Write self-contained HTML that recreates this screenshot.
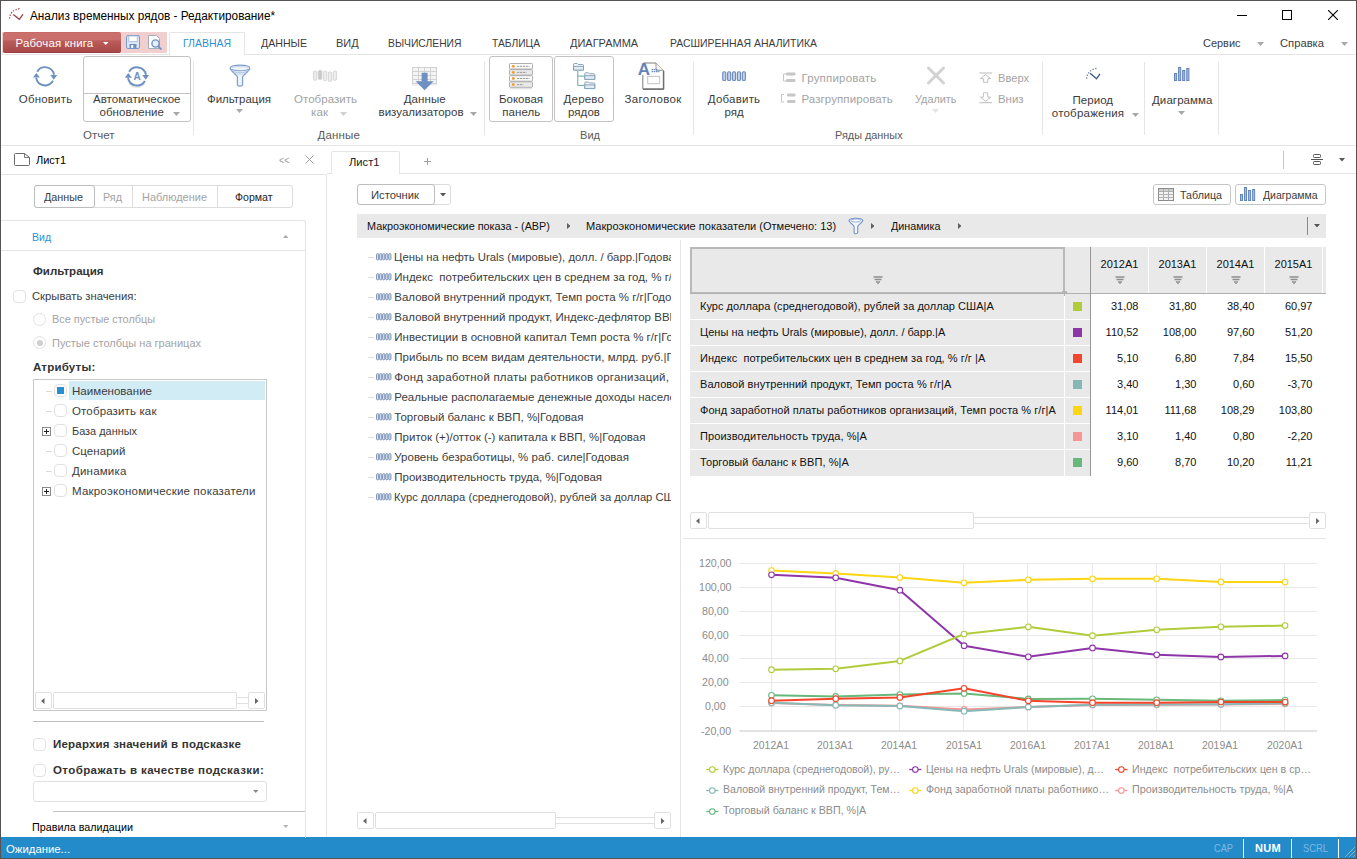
<!DOCTYPE html>
<html><head><meta charset="utf-8"><title>Анализ временных рядов</title>
<style>
html,body{margin:0;padding:0;}
body{width:1357px;height:859px;overflow:hidden;background:#fff;position:relative;font-family:"Liberation Sans",sans-serif;font-size:12px;color:#3c3c3c;}
.t{position:absolute;white-space:pre;transform-origin:0 50%;}
.b{position:absolute;box-sizing:border-box;}
</style></head><body>
<div class="b" style="left:0px;top:837px;width:1357px;height:22px;background:#248bcb;"></div>
<span class="t" style="left:6.00px;top:841.50px;line-height:15.5px;font-size:11.5px;color:#fff;transform:scaleX(0.9868);">Ожидание...</span>
<span class="t" style="left:1214.00px;top:840.50px;line-height:15px;font-size:11px;color:#7fb8de;transform:scaleX(0.8398);">CAP</span>
<span class="t" style="left:1255.00px;top:840.50px;line-height:15px;font-size:11px;color:#fff;letter-spacing:0.323px;font-weight:bold;">NUM</span>
<span class="t" style="left:1303.00px;top:840.50px;line-height:15px;font-size:11px;color:#7fb8de;transform:scaleX(0.8520);">SCRL</span>
<div class="b" style="left:1243px;top:839px;width:1px;height:19px;background:#fff;"></div>
<div class="b" style="left:1291px;top:839px;width:1px;height:19px;background:#fff;"></div>
<div class="b" style="left:1338px;top:839px;width:1px;height:19px;background:#fff;"></div>
<svg class="b" style="left:1343px;top:845px" width="12" height="12" viewBox="0 0 12 12"><path d="M1.5 12.5L12.5 1.5M5.5 12.5L12.5 5.5M9.5 12.5L12.5 9.5" stroke="#d9cfc6" stroke-width="1" stroke-dasharray="1 0.6" fill="none"/></svg>
<svg class="b" style="left:8px;top:7px" width="17" height="14" viewBox="0 0 17 14"><path d="M1.6 11.6 C1.6 6.5 5.5 2.3 11.6 1.7" stroke="#a8474d" stroke-width="1.3" stroke-dasharray="1.3 1.5" fill="none"/><path d="M5.3 7.4 L11.3 12.3 L15 7.4" stroke="#9c3f45" stroke-width="1.3" fill="none"/></svg>
<span class="t" style="left:30.00px;top:7.50px;line-height:16px;font-size:12px;color:#000;transform:scaleX(0.9821);">Анализ временных рядов - Редактирование*</span>
<div class="b" style="left:1237px;top:15px;width:10px;height:1px;background:#000;"></div>
<div class="b" style="left:1282px;top:10px;width:10px;height:10px;border:1px solid #000;"></div>
<svg class="b" style="left:1328px;top:10px" width="10" height="10" viewBox="0 0 10 10"><path d="M0 0L10 10M10 0L0 10" stroke="#000" stroke-width="1.1"/></svg>
<div class="b" style="left:1px;top:54px;width:1355px;height:1px;background:#e5e5e5;"></div>
<div class="b" style="left:2px;top:32px;width:165px;height:21px;background:#f2cfcf;"></div>
<div class="b" style="left:3px;top:32px;width:118px;height:21px;background:linear-gradient(#c56563 0%,#ca706d 6%,#c96e6b 40%,#ba5d5b 44%,#b35452 68%,#a94b4a 92%);border-radius:2px;border-bottom:1px solid #98403f;"></div>
<span class="t" style="left:15.50px;top:35.60px;line-height:15.5px;font-size:11.5px;color:#fff;letter-spacing:0.112px;">Рабочая книга</span>
<svg class="b" style="left:102.75px;top:41.9px" width="5.5" height="3" viewBox="0 0 5.5 3"><path d="M0 0H5.5L2.75 3Z" fill="#fff"/></svg>
<svg class="b" style="left:126px;top:35px" width="14" height="14" viewBox="0 0 14 14"><rect x="0.5" y="0.5" width="13" height="13" rx="1.5" fill="#dbe6f4" stroke="#7b9ccb"/><rect x="2.8" y="1" width="8.4" height="5.5" fill="#fff" stroke="#9fb8da" stroke-width="0.8"/><rect x="3.5" y="9" width="7" height="4.5" fill="#6f8fc0"/><rect x="5.2" y="10" width="2" height="3" fill="#fff"/></svg>
<svg class="b" style="left:148px;top:35px" width="15" height="15" viewBox="0 0 15 15"><path d="M0.5 0.5H8.5L11.5 3.5V13.5H0.5Z" fill="#fff" stroke="#a3aebd"/><circle cx="7.5" cy="8.5" r="3.6" fill="#e6eef8" stroke="#6f8fc0" stroke-width="1.4"/><path d="M10.2 11.3L13.5 14.5" stroke="#6f8fc0" stroke-width="1.8"/></svg>
<div class="b" style="left:169px;top:32px;width:76px;height:23px;background:#fff;border:1px solid #e5e5e5;border-bottom:none;border-radius:2px 2px 0 0;"></div>
<span class="t" style="left:183.00px;top:36.00px;line-height:15px;font-size:11px;color:#2d8fd5;transform:scaleX(0.9514);">ГЛАВНАЯ</span>
<span class="t" style="left:260.50px;top:36.00px;line-height:15px;font-size:11px;color:#3c3c3c;transform:scaleX(0.9634);">ДАННЫЕ</span>
<span class="t" style="left:336.00px;top:36.00px;line-height:15px;font-size:11px;color:#3c3c3c;transform:scaleX(0.9999);">ВИД</span>
<span class="t" style="left:388.00px;top:36.00px;line-height:15px;font-size:11px;color:#3c3c3c;transform:scaleX(0.9395);">ВЫЧИСЛЕНИЯ</span>
<span class="t" style="left:491.50px;top:36.00px;line-height:15px;font-size:11px;color:#3c3c3c;transform:scaleX(0.9315);">ТАБЛИЦА</span>
<span class="t" style="left:569.60px;top:36.00px;line-height:15px;font-size:11px;color:#3c3c3c;transform:scaleX(0.9990);">ДИАГРАММА</span>
<span class="t" style="left:670.00px;top:36.00px;line-height:15px;font-size:11px;color:#3c3c3c;transform:scaleX(0.9490);">РАСШИРЕННАЯ АНАЛИТИКА</span>
<span class="t" style="left:1202.50px;top:35.50px;line-height:15.5px;font-size:11.5px;color:#3c3c3c;transform:scaleX(0.9524);">Сервис</span>
<svg class="b" style="left:1257.0px;top:42.0px" width="7" height="4" viewBox="0 0 7 4"><path d="M0 0H7L3.5 4Z" fill="#a8a8a8"/></svg>
<span class="t" style="left:1279.60px;top:35.50px;line-height:15.5px;font-size:11.5px;color:#3c3c3c;transform:scaleX(0.9754);">Справка</span>
<svg class="b" style="left:1341.0px;top:42.0px" width="7" height="4" viewBox="0 0 7 4"><path d="M0 0H7L3.5 4Z" fill="#a8a8a8"/></svg>
<div class="b" style="left:1px;top:145px;width:1355px;height:1px;background:#e5e5e5;"></div>
<div class="b" style="left:193px;top:62px;width:1px;height:73px;background:#e5e5e5;"></div>
<div class="b" style="left:484px;top:62px;width:1px;height:73px;background:#e5e5e5;"></div>
<div class="b" style="left:693px;top:62px;width:1px;height:73px;background:#e5e5e5;"></div>
<div class="b" style="left:1042px;top:62px;width:1px;height:73px;background:#e5e5e5;"></div>
<div class="b" style="left:1144px;top:62px;width:1px;height:73px;background:#e5e5e5;"></div>
<div class="b" style="left:1218px;top:62px;width:1px;height:73px;background:#e5e5e5;"></div>
<svg class="b" style="left:30px;top:62px" width="30" height="30" viewBox="0 0 30 30"><path d="M7.22 9.75 A9.1 9.1 0 0 1 24.06 12.72" stroke="#6e90c2" stroke-width="1.9" fill="none"/><path d="M20.30 13.00 H27.20 L23.80 17.70Z" fill="#6e90c2"/><path d="M22.98 18.85 A9.1 9.1 0 0 1 6.14 15.88" stroke="#6e90c2" stroke-width="1.9" fill="none"/><path d="M9.90 15.60 H3.00 L6.40 10.90Z" fill="#6e90c2"/></svg>
<span class="t" style="left:18.80px;top:91.60px;line-height:15.5px;font-size:11.5px;color:#3c3c3c;letter-spacing:0.182px;">Обновить</span>
<div class="b" style="left:83px;top:56px;width:108px;height:66px;border:1px solid #c3c3c3;border-radius:3px;"></div>
<div class="b" style="left:84px;top:93px;width:106px;height:1px;background:#c3c3c3;"></div>
<svg class="b" style="left:122px;top:62px" width="30" height="30" viewBox="0 0 30 30"><path d="M7.5 21.5 A9.5 9.5 0 0 0 22.5 21.5" stroke="#e6e6e6" stroke-width="1.6" fill="none"/><path d="M7.12 9.85 A9.1 9.1 0 0 1 23.96 12.82" stroke="#6e90c2" stroke-width="1.9" fill="none"/><path d="M20.20 13.10 H27.10 L23.70 17.80Z" fill="#6e90c2"/><path d="M22.88 18.95 A9.1 9.1 0 0 1 6.04 15.98" stroke="#6e90c2" stroke-width="1.9" fill="none"/><path d="M9.80 15.70 H2.90 L6.30 11.00Z" fill="#6e90c2"/><text x="15" y="17.9" font-size="10" font-weight="bold" fill="#6e90c2" text-anchor="middle" font-family="Liberation Sans">A</text></svg>
<span class="t" style="left:93.00px;top:91.60px;line-height:15.5px;font-size:11.5px;color:#3c3c3c;letter-spacing:0.046px;">Автоматическое</span>
<span class="t" style="left:99.50px;top:104.60px;line-height:15.5px;font-size:11.5px;color:#3c3c3c;letter-spacing:0.069px;">обновление</span>
<svg class="b" style="left:172.5px;top:111.5px" width="7" height="4" viewBox="0 0 7 4"><path d="M0 0H7L3.5 4Z" fill="#a8a8a8"/></svg>
<span class="t" style="left:83.00px;top:127.60px;line-height:15.5px;font-size:11.5px;color:#5a5a5a;letter-spacing:0.006px;">Отчет</span>
<svg class="b" style="left:228.8px;top:64px" width="22" height="24" viewBox="0 0 22 24"><path d="M1.2 4.2 C1.2 0.2 20.8 0.2 20.8 4.2 C20.8 6.5 14.2 11.2 13.6 12.8 V20.6 C13.6 22.6 8.4 22.6 8.4 20.6 V12.8 C7.8 11.2 1.2 6.5 1.2 4.2Z" fill="#eef3fb" stroke="#7d9dcc" stroke-width="1.2"/><path d="M1.5 4.4 C3 7.6 19 7.6 20.5 4.4" fill="none" stroke="#7d9dcc" stroke-width="1"/><path d="M2.6 6.2 C6 9.6 16 9.6 19.4 6.2" fill="none" stroke="#a3bbe0" stroke-width="0.9"/><path d="M4.6 8.3 C8 11 14 11 17.4 8.3" fill="none" stroke="#b9cbe8" stroke-width="0.8"/><path d="M3 3.6 C6 2.2 16 2.2 19 3.6" fill="none" stroke="#b9cbe8" stroke-width="0.8"/></svg>
<span class="t" style="left:207.00px;top:91.60px;line-height:15.5px;font-size:11.5px;color:#3c3c3c;transform:scaleX(0.9959);">Фильтрация</span>
<svg class="b" style="left:235.5px;top:108.5px" width="7" height="4" viewBox="0 0 7 4"><path d="M0 0H7L3.5 4Z" fill="#a8a8a8"/></svg>
<svg class="b" style="left:313px;top:70px" width="25" height="12" viewBox="0 0 25 12"><rect x="0.5" y="1.2" width="3.3" height="9" rx="1" fill="#ededed" stroke="#cdcdcd" stroke-width="0.8"/><rect x="5.45" y="0.4" width="3.3" height="9" rx="1" fill="#c9c9c9" stroke="#cdcdcd" stroke-width="0.8"/><rect x="10.4" y="1.2" width="3.3" height="9.4" rx="1" fill="#ededed" stroke="#cdcdcd" stroke-width="0.8"/><rect x="15.350000000000001" y="2" width="3.3" height="9.4" rx="1" fill="#ededed" stroke="#cdcdcd" stroke-width="0.8"/><rect x="20.3" y="1.2" width="3.3" height="9" rx="1" fill="#ededed" stroke="#cdcdcd" stroke-width="0.8"/></svg>
<span class="t" style="left:294.00px;top:91.60px;line-height:15.5px;font-size:11.5px;color:#a3a3a3;letter-spacing:0.034px;">Отобразить</span>
<span class="t" style="left:311.00px;top:104.60px;line-height:15.5px;font-size:11.5px;color:#a3a3a3;letter-spacing:0.099px;">как</span>
<svg class="b" style="left:339.5px;top:111.5px" width="7" height="4" viewBox="0 0 7 4"><path d="M0 0H7L3.5 4Z" fill="#d0d0d0"/></svg>
<svg class="b" style="left:412px;top:67px" width="25" height="24" viewBox="0 0 25 24"><rect x="0.5" y="0.5" width="24" height="16" fill="#f4f4f4" stroke="#d2d2d2"/><path d="M0.5 4.5H24.5" stroke="#d2d2d2"/><path d="M0.5 8.5H24.5" stroke="#d2d2d2"/><path d="M0.5 12.5H24.5" stroke="#d2d2d2"/><path d="M6.5 0.5V16.5" stroke="#d2d2d2"/><path d="M12.5 0.5V16.5" stroke="#d2d2d2"/><path d="M18.5 0.5V16.5" stroke="#d2d2d2"/><path d="M0 17.8H25" stroke="#e9e9e9" stroke-width="1.2"/><path d="M9.6 5.7H15.6V14.2H21.6L12.6 23.2L3.6 14.2H9.6Z" fill="#6e90c2"/></svg>
<span class="t" style="left:403.70px;top:91.60px;line-height:15.5px;font-size:11.5px;color:#3c3c3c;letter-spacing:0.081px;">Данные</span>
<span class="t" style="left:378.50px;top:104.60px;line-height:15.5px;font-size:11.5px;color:#3c3c3c;letter-spacing:0.026px;">визуализаторов</span>
<svg class="b" style="left:470.0px;top:111.5px" width="7" height="4" viewBox="0 0 7 4"><path d="M0 0H7L3.5 4Z" fill="#a8a8a8"/></svg>
<span class="t" style="left:317.50px;top:127.60px;line-height:15.5px;font-size:11.5px;color:#5a5a5a;letter-spacing:0.164px;">Данные</span>
<div class="b" style="left:489px;top:56px;width:64px;height:66px;border:1px solid #c3c3c3;border-radius:3px;"></div>
<svg class="b" style="left:509px;top:63px" width="24" height="27" viewBox="0 0 24 27"><path d="M1 25.6H23" stroke="#e3e3e3" stroke-width="1.4"/><rect x="0.5" y="0.5" width="23" height="5.5" rx="0.8" fill="#fbfbfb" stroke="#a6a6a6" stroke-width="0.9"/><circle cx="4.3" cy="3.3" r="1.4" fill="#f59a23"/><path d="M8 3.3H20.5" stroke="#909090" stroke-width="0.9" stroke-dasharray="2.2 0.7"/><rect x="0.5" y="6.6" width="23" height="5.5" rx="0.8" fill="#e9e9e9" stroke="#a6a6a6" stroke-width="0.9"/><circle cx="4.3" cy="9.399999999999999" r="1.4" fill="#f59a23"/><path d="M8 9.399999999999999H17.5" stroke="#909090" stroke-width="0.9" stroke-dasharray="2.2 0.7"/><rect x="0.5" y="12.7" width="23" height="5.5" rx="0.8" fill="#fbfbfb" stroke="#a6a6a6" stroke-width="0.9"/><circle cx="4.3" cy="15.5" r="1.4" fill="#f59a23"/><path d="M8 15.5H20.5" stroke="#909090" stroke-width="0.9" stroke-dasharray="2.2 0.7"/><rect x="0.5" y="18.799999999999997" width="23" height="5.5" rx="0.8" fill="#e9e9e9" stroke="#a6a6a6" stroke-width="0.9"/><circle cx="4.3" cy="21.599999999999998" r="1.4" fill="#f59a23"/><path d="M8 21.599999999999998H14.5" stroke="#909090" stroke-width="0.9" stroke-dasharray="2.2 0.7"/></svg>
<span class="t" style="left:499.00px;top:91.60px;line-height:15.5px;font-size:11.5px;color:#3c3c3c;transform:scaleX(0.9979);">Боковая</span>
<span class="t" style="left:502.30px;top:104.60px;line-height:15.5px;font-size:11.5px;color:#3c3c3c;letter-spacing:0.055px;">панель</span>
<div class="b" style="left:554px;top:56px;width:60px;height:66px;border:1px solid #c3c3c3;border-radius:3px;"></div>
<svg class="b" style="left:573px;top:63px" width="23" height="27" viewBox="0 0 23 27"><path d="M0.5 1.4Q0.5 0.5 1.4 0.5H4.2L5.2 1.5H9.6Q10.5 1.5 10.5 2.4V7H0.5Z" fill="#f3f7fb" stroke="#7b9db6" stroke-width="0.9"/><path d="M0.5 3.4H10.5V7.1H0.5Z" fill="#e3ebf4" stroke="#7b9db6" stroke-width="0.9"/><path d="M11.8 10.700000000000001Q11.8 9.8 12.700000000000001 9.8H15.5L16.5 10.8H20.9Q21.8 10.8 21.8 11.700000000000001V16.3H11.8Z" fill="#f3f7fb" stroke="#7b9db6" stroke-width="0.9"/><path d="M11.8 12.700000000000001H21.8V16.4H11.8Z" fill="#e3ebf4" stroke="#7b9db6" stroke-width="0.9"/><path d="M11.8 19.9Q11.8 19.0 12.700000000000001 19.0H15.5L16.5 20.0H20.9Q21.8 20.0 21.8 20.9V25.5H11.8Z" fill="#f3f7fb" stroke="#7b9db6" stroke-width="0.9"/><path d="M11.8 21.9H21.8V25.6H11.8Z" fill="#e3ebf4" stroke="#7b9db6" stroke-width="0.9"/><path d="M4.8 8V22.4H11M4.8 13.1H11" stroke="#6aa5a8" stroke-width="1" fill="none"/></svg>
<span class="t" style="left:563.60px;top:91.60px;line-height:15.5px;font-size:11.5px;color:#3c3c3c;letter-spacing:0.179px;">Дерево</span>
<span class="t" style="left:568.00px;top:104.60px;line-height:15.5px;font-size:11.5px;color:#3c3c3c;letter-spacing:0.059px;">рядов</span>
<svg class="b" style="left:637.5px;top:61.5px" width="28" height="29" viewBox="0 0 28 29"><path d="M5.5 1H18L25.3 8.3V26.8H4.8V13" fill="#fff" stroke="#7c7c7c" stroke-width="1"/><path d="M5 27.3H25.8V9" fill="none" stroke="#5c5c5c" stroke-width="1"/><path d="M18 1V8.3H25.3" fill="#f4f4f4" stroke="#8d8d8d" stroke-width="0.9"/><rect x="9.7" y="14.4" width="12" height="7.3" fill="#fff" stroke="#c4c4c4" stroke-width="1"/><path d="M13.6 7.6H19.5M13.6 9.6H21.5" stroke="#6d8cc0" stroke-width="1.1" stroke-dasharray="1.6 0.6"/><text x="-0.2" y="12.6" font-size="17" font-weight="bold" fill="#6485b8" font-family="Liberation Sans">A</text></svg>
<span class="t" style="left:624.60px;top:91.60px;line-height:15.5px;font-size:11.5px;color:#3c3c3c;letter-spacing:0.328px;">Заголовок</span>
<span class="t" style="left:579.50px;top:127.60px;line-height:15.5px;font-size:11.5px;color:#5a5a5a;transform:scaleX(0.9617);">Вид</span>
<svg class="b" style="left:722px;top:71px" width="25" height="11" viewBox="0 0 25 11"><rect x="0.7" y="0.7" width="3.1" height="8.8" rx="1.3" fill="#c3d2e8" stroke="#6f8dba" stroke-width="1.15"/><rect x="5.6000000000000005" y="0.7" width="3.1" height="8.8" rx="1.3" fill="#c3d2e8" stroke="#6f8dba" stroke-width="1.15"/><rect x="10.5" y="0.7" width="3.1" height="8.8" rx="1.3" fill="#c3d2e8" stroke="#6f8dba" stroke-width="1.15"/><rect x="15.4" y="0.7" width="3.1" height="8.8" rx="1.3" fill="#c3d2e8" stroke="#6f8dba" stroke-width="1.15"/><rect x="20.3" y="0.7" width="3.1" height="8.8" rx="1.3" fill="#c3d2e8" stroke="#6f8dba" stroke-width="1.15"/></svg>
<span class="t" style="left:707.80px;top:91.60px;line-height:15.5px;font-size:11.5px;color:#3c3c3c;letter-spacing:0.213px;">Добавить</span>
<span class="t" style="left:724.50px;top:104.60px;line-height:15.5px;font-size:11.5px;color:#3c3c3c;letter-spacing:0.032px;">ряд</span>
<svg class="b" style="left:782px;top:72px" width="14" height="11" viewBox="0 0 14 11"><path d="M5 2H1.5V9H5" stroke="#c6c6c6" fill="none"/><rect x="4" y="0.5" width="9.5" height="3" rx="1.2" fill="#c6c6c6"/><rect x="4" y="7" width="9.5" height="3" rx="1.2" fill="#c6c6c6"/></svg>
<span class="t" style="left:801.40px;top:71.40px;line-height:15.5px;font-size:11.5px;color:#a3a3a3;letter-spacing:0.195px;">Группировать</span>
<svg class="b" style="left:781px;top:93px" width="15" height="11" viewBox="0 0 15 11"><path d="M3 1.5H0.5V9H3" stroke="#c6c6c6" fill="none"/><rect x="6" y="0.5" width="8.5" height="3" rx="1.2" fill="#c6c6c6"/><rect x="6" y="7" width="8.5" height="3" rx="1.2" fill="#c6c6c6"/></svg>
<span class="t" style="left:801.40px;top:92.40px;line-height:15.5px;font-size:11.5px;color:#a3a3a3;letter-spacing:0.095px;">Разгруппировать</span>
<svg class="b" style="left:926px;top:66px" width="20" height="19" viewBox="0 0 20 19"><path d="M2.5 2L17.5 17M17.5 2L2.5 17" stroke="#d2d2d2" stroke-width="2.9" stroke-linecap="round"/></svg>
<span class="t" style="left:915.00px;top:91.60px;line-height:15.5px;font-size:11.5px;color:#a3a3a3;transform:scaleX(0.9455);">Удалить</span>
<svg class="b" style="left:932.0px;top:108.5px" width="7" height="4" viewBox="0 0 7 4"><path d="M0 0H7L3.5 4Z" fill="#e3e3e3"/></svg>
<svg class="b" style="left:979px;top:72px" width="14" height="11" viewBox="0 0 14 11"><path d="M0.3 1H13" stroke="#c2c2c2" stroke-width="1.1"/><path d="M6.6 2.6L11.8 6.6H8.8V10.2H4.4V6.6H1.4Z" fill="#fff" stroke="#c2c2c2" stroke-width="1"/></svg>
<span class="t" style="left:998.20px;top:71.40px;line-height:15.5px;font-size:11.5px;color:#a3a3a3;transform:scaleX(0.9669);">Вверх</span>
<svg class="b" style="left:979px;top:92px" width="14" height="12" viewBox="0 0 14 12"><path d="M0.3 10.7H13" stroke="#c2c2c2" stroke-width="1.1"/><path d="M6.6 9.2L11.8 5.2H8.8V0.8H4.4V5.2H1.4Z" fill="#fff" stroke="#c2c2c2" stroke-width="1"/></svg>
<span class="t" style="left:998.20px;top:92.40px;line-height:15.5px;font-size:11.5px;color:#a3a3a3;transform:scaleX(0.9921);">Вниз</span>
<span class="t" style="left:834.60px;top:127.60px;line-height:15.5px;font-size:11.5px;color:#5a5a5a;transform:scaleX(0.9457);">Ряды данных</span>
<svg class="b" style="left:1085px;top:66px" width="18" height="15" viewBox="0 0 18 15"><path d="M1.6 12.6 C1.8 7.6 6 2.8 12.4 2.4" stroke="#6b7a94" stroke-width="1.3" stroke-dasharray="1.3 1.5" fill="none"/><path d="M5.1 7.3 L11.5 12.8 L15 7.9" stroke="#3f5a88" stroke-width="1.4" fill="none"/></svg>
<span class="t" style="left:1072.60px;top:93.40px;line-height:15.5px;font-size:11.5px;color:#3c3c3c;letter-spacing:0.015px;">Период</span>
<span class="t" style="left:1051.80px;top:106.30px;line-height:15.5px;font-size:11.5px;color:#3c3c3c;letter-spacing:0.216px;">отображения</span>
<svg class="b" style="left:1131.5px;top:113.0px" width="7" height="4" viewBox="0 0 7 4"><path d="M0 0H7L3.5 4Z" fill="#a8a8a8"/></svg>
<svg class="b" style="left:1174px;top:66px" width="17" height="15" viewBox="0 0 17 15"><rect x="0.5" y="7.5" width="2.1" height="7" fill="#a3bbde" stroke="#6284b8" stroke-width="1"/><rect x="4.6" y="1.5" width="2.1" height="13" fill="#a3bbde" stroke="#6284b8" stroke-width="1"/><rect x="8.7" y="4.5" width="2.1" height="10" fill="#a3bbde" stroke="#6284b8" stroke-width="1"/><rect x="12.799999999999999" y="2.5" width="2.1" height="12" fill="#a3bbde" stroke="#6284b8" stroke-width="1"/></svg>
<span class="t" style="left:1152.00px;top:93.40px;line-height:15.5px;font-size:11.5px;color:#3c3c3c;letter-spacing:0.082px;">Диаграмма</span>
<svg class="b" style="left:1178.0px;top:111.0px" width="7" height="4" viewBox="0 0 7 4"><path d="M0 0H7L3.5 4Z" fill="#a8a8a8"/></svg>
<svg class="b" style="left:14px;top:153px" width="16" height="13" viewBox="0 0 16 13"><path d="M0.5 1.5 Q0.5 0.5 1.5 0.5H10.5L15.5 4.5V11.5Q15.5 12.5 14.5 12.5H1.5Q0.5 12.5 0.5 11.5Z" fill="#fff" stroke="#6a6a6a" stroke-width="1"/><path d="M10.5 0.5V4.5H15.5" fill="none" stroke="#6a6a6a" stroke-width="0.9"/></svg>
<span class="t" style="left:36.00px;top:153.00px;line-height:15.5px;font-size:11.5px;color:#000;transform:scaleX(0.9562);">Лист1</span>
<span class="t" style="left:278.50px;top:152.50px;line-height:15px;font-size:11px;color:#9a9a9a;transform:scaleX(0.8175);">&lt;&lt;</span>
<svg class="b" style="left:305.3px;top:155.2px" width="9" height="9" viewBox="0 0 9 9"><path d="M0.6 0.6L8.4 8.4M8.4 0.6L0.6 8.4" stroke="#9c9c9c" stroke-width="1"/></svg>
<div class="b" style="left:1px;top:174px;width:326px;height:1px;background:#e5e5e5;"></div>
<div class="b" style="left:326px;top:175px;width:1px;height:662px;background:#e5e5e5;"></div>
<div class="b" style="left:327px;top:173px;width:4px;height:1px;background:#e5e5e5;"></div>
<div class="b" style="left:34px;top:185px;width:259px;height:23px;border:1px solid #dcdcdc;border-radius:3px;"></div>
<div class="b" style="left:132px;top:186px;width:1px;height:21px;background:#dcdcdc;"></div>
<div class="b" style="left:217px;top:186px;width:1px;height:21px;background:#dcdcdc;"></div>
<div class="b" style="left:34px;top:185px;width:61px;height:23px;border:1px solid #bdbdbd;border-radius:3px;background:#fff;"></div>
<span class="t" style="left:44.00px;top:190.00px;line-height:15.5px;font-size:11.5px;color:#3c3c3c;transform:scaleX(0.9394);">Данные</span>
<span class="t" style="left:103.00px;top:190.00px;line-height:15.5px;font-size:11.5px;color:#a3a3a3;transform:scaleX(0.9390);">Ряд</span>
<span class="t" style="left:142.00px;top:190.00px;line-height:15.5px;font-size:11.5px;color:#a3a3a3;transform:scaleX(0.9543);">Наблюдение</span>
<span class="t" style="left:235.00px;top:190.00px;line-height:15.5px;font-size:11.5px;color:#222;transform:scaleX(0.9181);">Формат</span>
<div class="b" style="left:1px;top:220px;width:305px;height:618px;border-top:1px solid #e5e5e5;border-right:1px solid #e5e5e5;border-top-right-radius:3px;"></div>
<span class="t" style="left:32.00px;top:230.00px;line-height:15.5px;font-size:11.5px;color:#2d8fd5;transform:scaleX(0.9136);">Вид</span>
<svg class="b" style="left:282.55px;top:234.9px" width="5.5" height="3" viewBox="0 0 5.5 3"><path d="M0 3H5.5L2.75 0Z" fill="#a8a8a8"/></svg>
<div class="b" style="left:1px;top:250px;width:304px;height:1px;background:#e5e5e5;"></div>
<span class="t" style="left:33.00px;top:264.00px;line-height:15.5px;font-size:11.5px;color:#333;letter-spacing:0.039px;font-weight:bold;">Фильтрация</span>
<div class="b" style="left:13px;top:290px;width:13px;height:13px;border:1px solid #e2e2e2;border-radius:4px;background:#fff;"></div>
<span class="t" style="left:32.00px;top:288.60px;line-height:15.5px;font-size:11.5px;color:#3c3c3c;transform:scaleX(0.9778);">Скрывать значения:</span>
<div class="b" style="left:33px;top:313px;width:13px;height:13px;border:1px solid #e2e2e2;border-radius:50%;"></div>
<span class="t" style="left:52.00px;top:311.60px;line-height:15.5px;font-size:11.5px;color:#a3a3a3;transform:scaleX(0.9458);">Все пустые столбцы</span>
<div class="b" style="left:33px;top:336px;width:13px;height:13px;border:1px solid #e2e2e2;border-radius:50%;"></div>
<div class="b" style="left:36.5px;top:339.5px;width:6px;height:6px;background:#cfcfcf;border-radius:50%;"></div>
<span class="t" style="left:52.00px;top:336.00px;line-height:15.5px;font-size:11.5px;color:#a3a3a3;transform:scaleX(0.9581);">Пустые столбцы на границах</span>
<span class="t" style="left:33.00px;top:360.00px;line-height:15.5px;font-size:11.5px;color:#333;letter-spacing:0.207px;font-weight:bold;">Атрибуты:</span>
<div class="b" style="left:33px;top:379px;width:234px;height:332px;border:1px solid #c8c8c8;"></div>
<div class="b" style="left:69px;top:381px;width:196px;height:19px;background:#d2ecf6;"></div>
<div class="b" style="left:46px;top:391px;width:6px;height:1px;background:#dcdcdc;"></div>
<div class="b" style="left:54px;top:384px;width:13px;height:13px;border:1px solid #e2e2e2;border-radius:4px;background:#fff;"></div>
<div class="b" style="left:57px;top:387px;width:7px;height:7px;background:#2a8fd2;"></div>
<span class="t" style="left:72.00px;top:383.75px;line-height:15.5px;font-size:11.5px;color:#3c3c3c;letter-spacing:0.026px;">Наименование</span>
<div class="b" style="left:46px;top:411px;width:6px;height:1px;background:#dcdcdc;"></div>
<div class="b" style="left:54px;top:404px;width:13px;height:13px;border:1px solid #e2e2e2;border-radius:4px;background:#fff;"></div>
<span class="t" style="left:72.00px;top:403.75px;line-height:15.5px;font-size:11.5px;color:#3c3c3c;letter-spacing:0.140px;">Отобразить как</span>
<svg class="b" style="left:42px;top:426.5px" width="9" height="9" viewBox="0 0 9 9"><rect x="0.5" y="0.5" width="8" height="8" fill="#fff" stroke="#8a8a8a"/><path d="M2 4.5H7M4.5 2V7" stroke="#222" stroke-width="1"/></svg>
<div class="b" style="left:54px;top:424px;width:13px;height:13px;border:1px solid #e2e2e2;border-radius:4px;background:#fff;"></div>
<span class="t" style="left:72.00px;top:423.75px;line-height:15.5px;font-size:11.5px;color:#3c3c3c;transform:scaleX(0.9496);">База данных</span>
<div class="b" style="left:46px;top:451px;width:6px;height:1px;background:#dcdcdc;"></div>
<div class="b" style="left:54px;top:444px;width:13px;height:13px;border:1px solid #e2e2e2;border-radius:4px;background:#fff;"></div>
<span class="t" style="left:72.00px;top:443.75px;line-height:15.5px;font-size:11.5px;color:#3c3c3c;letter-spacing:0.045px;">Сценарий</span>
<div class="b" style="left:46px;top:471px;width:6px;height:1px;background:#dcdcdc;"></div>
<div class="b" style="left:54px;top:464px;width:13px;height:13px;border:1px solid #e2e2e2;border-radius:4px;background:#fff;"></div>
<span class="t" style="left:72.00px;top:463.75px;line-height:15.5px;font-size:11.5px;color:#3c3c3c;letter-spacing:0.195px;">Динамика</span>
<svg class="b" style="left:42px;top:486.5px" width="9" height="9" viewBox="0 0 9 9"><rect x="0.5" y="0.5" width="8" height="8" fill="#fff" stroke="#8a8a8a"/><path d="M2 4.5H7M4.5 2V7" stroke="#222" stroke-width="1"/></svg>
<div class="b" style="left:54px;top:484px;width:13px;height:13px;border:1px solid #e2e2e2;border-radius:4px;background:#fff;"></div>
<span class="t" style="left:72.00px;top:483.75px;line-height:15.5px;font-size:11.5px;color:#3c3c3c;letter-spacing:0.210px;">Макроэкономические показатели</span>
<div class="b" style="left:35px;top:692px;width:17px;height:17px;border:1px solid #e0e0e0;border-radius:2px;background:#fff;"></div>
<svg class="b" style="left:41.25px;top:697.5px" width="3.5" height="6" viewBox="0 0 3.5 6"><path d="M3.5 0V6L0 3.0Z" fill="#666"/></svg>
<div class="b" style="left:248px;top:692px;width:17px;height:17px;border:1px solid #e0e0e0;border-radius:2px;background:#fff;"></div>
<svg class="b" style="left:255.25px;top:697.5px" width="3.5" height="6" viewBox="0 0 3.5 6"><path d="M0 0V6L3.5 3.0Z" fill="#666"/></svg>
<div class="b" style="left:235px;top:697px;width:14px;height:7px;border-top:1px solid #e0e0e0;border-bottom:1px solid #e0e0e0;"></div>
<div class="b" style="left:53px;top:692px;width:184px;height:17px;border:1px solid #e0e0e0;border-radius:2px;background:#fff;"></div>
<div class="b" style="left:33px;top:721px;width:231px;height:1px;background:#bdbdbd;"></div>
<div class="b" style="left:33px;top:738px;width:13px;height:13px;border:1px solid #e2e2e2;border-radius:4px;background:#fff;"></div>
<span class="t" style="left:53.00px;top:736.50px;line-height:15.5px;font-size:11.5px;color:#333;letter-spacing:0.202px;font-weight:bold;">Иерархия значений в подсказке</span>
<div class="b" style="left:33px;top:764px;width:13px;height:13px;border:1px solid #e2e2e2;border-radius:4px;background:#fff;"></div>
<span class="t" style="left:53.00px;top:762.50px;line-height:15.5px;font-size:11.5px;color:#333;letter-spacing:0.405px;font-weight:bold;">Отображать в качестве подсказки:</span>
<div class="b" style="left:33px;top:781px;width:234px;height:21px;border:1px solid #e0e0e0;border-radius:3px;background:#fff;"></div>
<svg class="b" style="left:252.75px;top:789.8px" width="5.5" height="3" viewBox="0 0 5.5 3"><path d="M0 0H5.5L2.75 3Z" fill="#888"/></svg>
<div class="b" style="left:53px;top:811px;width:252px;height:1px;background:#c4c4c4;"></div>
<span class="t" style="left:32.00px;top:819.75px;line-height:15.5px;font-size:11.5px;color:#000;transform:scaleX(0.9361);">Правила валидации</span>
<svg class="b" style="left:282.55px;top:825.1px" width="5.5" height="3" viewBox="0 0 5.5 3"><path d="M0 0H5.5L2.75 3Z" fill="#b5b5b5"/></svg>
<div class="b" style="left:399px;top:173px;width:957px;height:1px;background:#e5e5e5;"></div>
<div class="b" style="left:331px;top:151px;width:69px;height:23px;background:#fff;border:1px solid #e5e5e5;border-bottom:none;border-radius:2px 2px 0 0;"></div>
<span class="t" style="left:349.00px;top:155.00px;line-height:15.5px;font-size:11.5px;color:#222;transform:scaleX(0.9721);">Лист1</span>
<svg class="b" style="left:424px;top:158px" width="7" height="7" viewBox="0 0 7 7"><path d="M3.5 0V7M0 3.5H7" stroke="#a0a0a0" stroke-width="1"/></svg>
<div class="b" style="left:1283px;top:151px;width:1px;height:18px;background:#b5cdea;"></div>
<svg class="b" style="left:1311px;top:154px" width="12" height="11" viewBox="0 0 12 11"><rect x="2.5" y="0.5" width="7" height="3" rx="0.8" fill="#fff" stroke="#555" stroke-width="1"/><path d="M0 5.5H12" stroke="#555" stroke-width="1"/><rect x="2.5" y="7.5" width="7" height="3" rx="0.8" fill="#fff" stroke="#555" stroke-width="1"/></svg>
<svg class="b" style="left:1338.5px;top:158.05px" width="6" height="3.5" viewBox="0 0 6 3.5"><path d="M0 0H6L3.0 3.5Z" fill="#555"/></svg>
<div class="b" style="left:357px;top:184px;width:94px;height:21px;border:1px solid #dcdcdc;border-radius:3px;background:#fff;"></div>
<div class="b" style="left:357px;top:184px;width:78px;height:21px;border:1px solid #bdbdbd;border-radius:3px;background:#fff;"></div>
<span class="t" style="left:371.00px;top:188.00px;line-height:15.5px;font-size:11.5px;color:#3c3c3c;transform:scaleX(0.9780);">Источник</span>
<svg class="b" style="left:440.0px;top:193.05px" width="6" height="3.5" viewBox="0 0 6 3.5"><path d="M0 0H6L3.0 3.5Z" fill="#555"/></svg>
<div class="b" style="left:1153px;top:184px;width:78px;height:21px;border:1px solid #c6c6c6;border-radius:3px;background:#fff;"></div>
<svg class="b" style="left:1158px;top:188px" width="16" height="13" viewBox="0 0 16 13"><rect x="0.5" y="0.5" width="15" height="12" fill="#f2f2f2" stroke="#8a8a8a"/><rect x="1" y="1" width="14" height="2.5" fill="#cfcfcf"/><path d="M0.5 3.5H15.5M0.5 6.5H15.5M0.5 9.5H15.5M5.5 0.5V12.5M10.5 0.5V12.5" stroke="#a9a9a9" stroke-width="0.9"/></svg>
<span class="t" style="left:1180.00px;top:188.00px;line-height:15.5px;font-size:11.5px;color:#3c3c3c;transform:scaleX(0.9314);">Таблица</span>
<div class="b" style="left:1235px;top:184px;width:91px;height:21px;border:1px solid #c6c6c6;border-radius:3px;background:#fff;"></div>
<svg class="b" style="left:1240px;top:187px" width="16" height="14" viewBox="0 0 16 14"><rect x="0.5" y="7.5" width="2" height="6" fill="#a9bfe0" stroke="#6284b8" stroke-width="1"/><rect x="4.55" y="0.5" width="2" height="13" fill="#a9bfe0" stroke="#6284b8" stroke-width="1"/><rect x="8.6" y="3.5" width="2" height="10" fill="#a9bfe0" stroke="#6284b8" stroke-width="1"/><rect x="12.649999999999999" y="2.5" width="2" height="11" fill="#a9bfe0" stroke="#6284b8" stroke-width="1"/></svg>
<span class="t" style="left:1263.00px;top:188.00px;line-height:15.5px;font-size:11.5px;color:#3c3c3c;transform:scaleX(0.9119);">Диаграмма</span>
<div class="b" style="left:357px;top:214px;width:969px;height:24px;background:#e9e9e9;"></div>
<span class="t" style="left:366.80px;top:219.00px;line-height:15.5px;font-size:11.5px;color:#111;transform:scaleX(0.9411);">Макроэкономические показа - (АВР)</span>
<svg class="b" style="left:566.75px;top:223.0px" width="3.5" height="6" viewBox="0 0 3.5 6"><path d="M0 0V6L3.5 3.0Z" fill="#606060"/></svg>
<span class="t" style="left:585.80px;top:219.00px;line-height:15.5px;font-size:11.5px;color:#111;transform:scaleX(0.9592);">Макроэкономические показатели (Отмечено: 13)</span>
<svg class="b" style="left:848px;top:217px" width="16" height="18" viewBox="0 0 16 18"><path d="M1 3.5 C1 0.4 14.8 0.4 14.8 3.5 C14.8 5.2 10 8.2 9.7 9.4 V15.6 C9.7 17.2 6.1 17.2 6.1 15.6 V9.4 C5.8 8.2 1 5.2 1 3.5Z" fill="#f3f7fd" stroke="#6f93c8" stroke-width="1.1"/><ellipse cx="7.9" cy="3.5" rx="5.2" ry="1.5" fill="#fff" stroke="#8aa7d4" stroke-width="0.9"/></svg>
<svg class="b" style="left:870.65px;top:223.0px" width="3.5" height="6" viewBox="0 0 3.5 6"><path d="M0 0V6L3.5 3.0Z" fill="#606060"/></svg>
<span class="t" style="left:891.00px;top:219.00px;line-height:15.5px;font-size:11.5px;color:#111;transform:scaleX(0.9351);">Динамика</span>
<svg class="b" style="left:957.55px;top:223.0px" width="3.5" height="6" viewBox="0 0 3.5 6"><path d="M0 0V6L3.5 3.0Z" fill="#606060"/></svg>
<div class="b" style="left:1307px;top:217px;width:1px;height:18px;background:#8a8a8a;"></div>
<svg class="b" style="left:1314.3px;top:223.85px" width="6" height="3.5" viewBox="0 0 6 3.5"><path d="M0 0H6L3.0 3.5Z" fill="#555"/></svg>
<div class="b" style="left:357px;top:244px;width:313.5px;height:264px;overflow:hidden;">
<div class="b" style="left:11px;top:13px;width:6px;height:1px;background:#dcdcdc;"></div>
<svg class="b" style="left:18.5px;top:9px" width="16" height="8" viewBox="0 0 16 8"><rect x="0.6" y="0.6" width="2.1" height="6.3" rx="1" fill="#e3e9f3" stroke="#7189b0" stroke-width="0.95"/><rect x="3.65" y="0.6" width="2.1" height="6.3" rx="1" fill="#e3e9f3" stroke="#7189b0" stroke-width="0.95"/><rect x="6.699999999999999" y="0.6" width="2.1" height="6.3" rx="1" fill="#e3e9f3" stroke="#7189b0" stroke-width="0.95"/><rect x="9.749999999999998" y="0.6" width="2.1" height="6.3" rx="1" fill="#e3e9f3" stroke="#7189b0" stroke-width="0.95"/><rect x="12.799999999999999" y="0.6" width="2.1" height="6.3" rx="1" fill="#e3e9f3" stroke="#7189b0" stroke-width="0.95"/></svg>
<span class="t" style="left:37.30px;top:6.00px;line-height:15.5px;font-size:11.5px;color:#3c3c3c;transform:scaleX(0.985);">Цены на нефть Urals (мировые), долл. / барр.|Годовая</span>
<div class="b" style="left:11px;top:33px;width:6px;height:1px;background:#dcdcdc;"></div>
<svg class="b" style="left:18.5px;top:29px" width="16" height="8" viewBox="0 0 16 8"><rect x="0.6" y="0.6" width="2.1" height="6.3" rx="1" fill="#e3e9f3" stroke="#7189b0" stroke-width="0.95"/><rect x="3.65" y="0.6" width="2.1" height="6.3" rx="1" fill="#e3e9f3" stroke="#7189b0" stroke-width="0.95"/><rect x="6.699999999999999" y="0.6" width="2.1" height="6.3" rx="1" fill="#e3e9f3" stroke="#7189b0" stroke-width="0.95"/><rect x="9.749999999999998" y="0.6" width="2.1" height="6.3" rx="1" fill="#e3e9f3" stroke="#7189b0" stroke-width="0.95"/><rect x="12.799999999999999" y="0.6" width="2.1" height="6.3" rx="1" fill="#e3e9f3" stroke="#7189b0" stroke-width="0.95"/></svg>
<span class="t" style="left:37.30px;top:26.00px;line-height:15.5px;font-size:11.5px;color:#3c3c3c;">Индекс  потребительских цен в среднем за год, % г/г|Годовая</span>
<div class="b" style="left:11px;top:53px;width:6px;height:1px;background:#dcdcdc;"></div>
<svg class="b" style="left:18.5px;top:49px" width="16" height="8" viewBox="0 0 16 8"><rect x="0.6" y="0.6" width="2.1" height="6.3" rx="1" fill="#e3e9f3" stroke="#7189b0" stroke-width="0.95"/><rect x="3.65" y="0.6" width="2.1" height="6.3" rx="1" fill="#e3e9f3" stroke="#7189b0" stroke-width="0.95"/><rect x="6.699999999999999" y="0.6" width="2.1" height="6.3" rx="1" fill="#e3e9f3" stroke="#7189b0" stroke-width="0.95"/><rect x="9.749999999999998" y="0.6" width="2.1" height="6.3" rx="1" fill="#e3e9f3" stroke="#7189b0" stroke-width="0.95"/><rect x="12.799999999999999" y="0.6" width="2.1" height="6.3" rx="1" fill="#e3e9f3" stroke="#7189b0" stroke-width="0.95"/></svg>
<span class="t" style="left:37.30px;top:46.00px;line-height:15.5px;font-size:11.5px;color:#3c3c3c;">Валовой внутренний продукт, Темп роста % г/г|Годовая</span>
<div class="b" style="left:11px;top:73px;width:6px;height:1px;background:#dcdcdc;"></div>
<svg class="b" style="left:18.5px;top:69px" width="16" height="8" viewBox="0 0 16 8"><rect x="0.6" y="0.6" width="2.1" height="6.3" rx="1" fill="#e3e9f3" stroke="#7189b0" stroke-width="0.95"/><rect x="3.65" y="0.6" width="2.1" height="6.3" rx="1" fill="#e3e9f3" stroke="#7189b0" stroke-width="0.95"/><rect x="6.699999999999999" y="0.6" width="2.1" height="6.3" rx="1" fill="#e3e9f3" stroke="#7189b0" stroke-width="0.95"/><rect x="9.749999999999998" y="0.6" width="2.1" height="6.3" rx="1" fill="#e3e9f3" stroke="#7189b0" stroke-width="0.95"/><rect x="12.799999999999999" y="0.6" width="2.1" height="6.3" rx="1" fill="#e3e9f3" stroke="#7189b0" stroke-width="0.95"/></svg>
<span class="t" style="left:37.30px;top:66.00px;line-height:15.5px;font-size:11.5px;color:#3c3c3c;">Валовой внутренний продукт, Индекс-дефлятор ВВП|Годовая</span>
<div class="b" style="left:11px;top:93px;width:6px;height:1px;background:#dcdcdc;"></div>
<svg class="b" style="left:18.5px;top:89px" width="16" height="8" viewBox="0 0 16 8"><rect x="0.6" y="0.6" width="2.1" height="6.3" rx="1" fill="#e3e9f3" stroke="#7189b0" stroke-width="0.95"/><rect x="3.65" y="0.6" width="2.1" height="6.3" rx="1" fill="#e3e9f3" stroke="#7189b0" stroke-width="0.95"/><rect x="6.699999999999999" y="0.6" width="2.1" height="6.3" rx="1" fill="#e3e9f3" stroke="#7189b0" stroke-width="0.95"/><rect x="9.749999999999998" y="0.6" width="2.1" height="6.3" rx="1" fill="#e3e9f3" stroke="#7189b0" stroke-width="0.95"/><rect x="12.799999999999999" y="0.6" width="2.1" height="6.3" rx="1" fill="#e3e9f3" stroke="#7189b0" stroke-width="0.95"/></svg>
<span class="t" style="left:37.30px;top:86.00px;line-height:15.5px;font-size:11.5px;color:#3c3c3c;">Инвестиции в основной капитал Темп роста % г/г|Годовая</span>
<div class="b" style="left:11px;top:113px;width:6px;height:1px;background:#dcdcdc;"></div>
<svg class="b" style="left:18.5px;top:109px" width="16" height="8" viewBox="0 0 16 8"><rect x="0.6" y="0.6" width="2.1" height="6.3" rx="1" fill="#e3e9f3" stroke="#7189b0" stroke-width="0.95"/><rect x="3.65" y="0.6" width="2.1" height="6.3" rx="1" fill="#e3e9f3" stroke="#7189b0" stroke-width="0.95"/><rect x="6.699999999999999" y="0.6" width="2.1" height="6.3" rx="1" fill="#e3e9f3" stroke="#7189b0" stroke-width="0.95"/><rect x="9.749999999999998" y="0.6" width="2.1" height="6.3" rx="1" fill="#e3e9f3" stroke="#7189b0" stroke-width="0.95"/><rect x="12.799999999999999" y="0.6" width="2.1" height="6.3" rx="1" fill="#e3e9f3" stroke="#7189b0" stroke-width="0.95"/></svg>
<span class="t" style="left:37.30px;top:106.00px;line-height:15.5px;font-size:11.5px;color:#3c3c3c;">Прибыль по всем видам деятельности, млрд. руб.|Годовая</span>
<div class="b" style="left:11px;top:133px;width:6px;height:1px;background:#dcdcdc;"></div>
<svg class="b" style="left:18.5px;top:129px" width="16" height="8" viewBox="0 0 16 8"><rect x="0.6" y="0.6" width="2.1" height="6.3" rx="1" fill="#e3e9f3" stroke="#7189b0" stroke-width="0.95"/><rect x="3.65" y="0.6" width="2.1" height="6.3" rx="1" fill="#e3e9f3" stroke="#7189b0" stroke-width="0.95"/><rect x="6.699999999999999" y="0.6" width="2.1" height="6.3" rx="1" fill="#e3e9f3" stroke="#7189b0" stroke-width="0.95"/><rect x="9.749999999999998" y="0.6" width="2.1" height="6.3" rx="1" fill="#e3e9f3" stroke="#7189b0" stroke-width="0.95"/><rect x="12.799999999999999" y="0.6" width="2.1" height="6.3" rx="1" fill="#e3e9f3" stroke="#7189b0" stroke-width="0.95"/></svg>
<span class="t" style="left:37.30px;top:126.00px;line-height:15.5px;font-size:11.5px;color:#3c3c3c;letter-spacing:0.18px;">Фонд заработной платы работников организаций, Темп роста</span>
<div class="b" style="left:11px;top:153px;width:6px;height:1px;background:#dcdcdc;"></div>
<svg class="b" style="left:18.5px;top:149px" width="16" height="8" viewBox="0 0 16 8"><rect x="0.6" y="0.6" width="2.1" height="6.3" rx="1" fill="#e3e9f3" stroke="#7189b0" stroke-width="0.95"/><rect x="3.65" y="0.6" width="2.1" height="6.3" rx="1" fill="#e3e9f3" stroke="#7189b0" stroke-width="0.95"/><rect x="6.699999999999999" y="0.6" width="2.1" height="6.3" rx="1" fill="#e3e9f3" stroke="#7189b0" stroke-width="0.95"/><rect x="9.749999999999998" y="0.6" width="2.1" height="6.3" rx="1" fill="#e3e9f3" stroke="#7189b0" stroke-width="0.95"/><rect x="12.799999999999999" y="0.6" width="2.1" height="6.3" rx="1" fill="#e3e9f3" stroke="#7189b0" stroke-width="0.95"/></svg>
<span class="t" style="left:37.30px;top:146.00px;line-height:15.5px;font-size:11.5px;color:#3c3c3c;">Реальные располагаемые денежные доходы населения</span>
<div class="b" style="left:11px;top:173px;width:6px;height:1px;background:#dcdcdc;"></div>
<svg class="b" style="left:18.5px;top:169px" width="16" height="8" viewBox="0 0 16 8"><rect x="0.6" y="0.6" width="2.1" height="6.3" rx="1" fill="#e3e9f3" stroke="#7189b0" stroke-width="0.95"/><rect x="3.65" y="0.6" width="2.1" height="6.3" rx="1" fill="#e3e9f3" stroke="#7189b0" stroke-width="0.95"/><rect x="6.699999999999999" y="0.6" width="2.1" height="6.3" rx="1" fill="#e3e9f3" stroke="#7189b0" stroke-width="0.95"/><rect x="9.749999999999998" y="0.6" width="2.1" height="6.3" rx="1" fill="#e3e9f3" stroke="#7189b0" stroke-width="0.95"/><rect x="12.799999999999999" y="0.6" width="2.1" height="6.3" rx="1" fill="#e3e9f3" stroke="#7189b0" stroke-width="0.95"/></svg>
<span class="t" style="left:37.30px;top:166.00px;line-height:15.5px;font-size:11.5px;color:#3c3c3c;">Торговый баланс к ВВП, %|Годовая</span>
<div class="b" style="left:11px;top:193px;width:6px;height:1px;background:#dcdcdc;"></div>
<svg class="b" style="left:18.5px;top:189px" width="16" height="8" viewBox="0 0 16 8"><rect x="0.6" y="0.6" width="2.1" height="6.3" rx="1" fill="#e3e9f3" stroke="#7189b0" stroke-width="0.95"/><rect x="3.65" y="0.6" width="2.1" height="6.3" rx="1" fill="#e3e9f3" stroke="#7189b0" stroke-width="0.95"/><rect x="6.699999999999999" y="0.6" width="2.1" height="6.3" rx="1" fill="#e3e9f3" stroke="#7189b0" stroke-width="0.95"/><rect x="9.749999999999998" y="0.6" width="2.1" height="6.3" rx="1" fill="#e3e9f3" stroke="#7189b0" stroke-width="0.95"/><rect x="12.799999999999999" y="0.6" width="2.1" height="6.3" rx="1" fill="#e3e9f3" stroke="#7189b0" stroke-width="0.95"/></svg>
<span class="t" style="left:37.30px;top:186.00px;line-height:15.5px;font-size:11.5px;color:#3c3c3c;">Приток (+)/отток (-) капитала к ВВП, %|Годовая</span>
<div class="b" style="left:11px;top:213px;width:6px;height:1px;background:#dcdcdc;"></div>
<svg class="b" style="left:18.5px;top:209px" width="16" height="8" viewBox="0 0 16 8"><rect x="0.6" y="0.6" width="2.1" height="6.3" rx="1" fill="#e3e9f3" stroke="#7189b0" stroke-width="0.95"/><rect x="3.65" y="0.6" width="2.1" height="6.3" rx="1" fill="#e3e9f3" stroke="#7189b0" stroke-width="0.95"/><rect x="6.699999999999999" y="0.6" width="2.1" height="6.3" rx="1" fill="#e3e9f3" stroke="#7189b0" stroke-width="0.95"/><rect x="9.749999999999998" y="0.6" width="2.1" height="6.3" rx="1" fill="#e3e9f3" stroke="#7189b0" stroke-width="0.95"/><rect x="12.799999999999999" y="0.6" width="2.1" height="6.3" rx="1" fill="#e3e9f3" stroke="#7189b0" stroke-width="0.95"/></svg>
<span class="t" style="left:37.30px;top:206.00px;line-height:15.5px;font-size:11.5px;color:#3c3c3c;">Уровень безработицы, % раб. силе|Годовая</span>
<div class="b" style="left:11px;top:233px;width:6px;height:1px;background:#dcdcdc;"></div>
<svg class="b" style="left:18.5px;top:229px" width="16" height="8" viewBox="0 0 16 8"><rect x="0.6" y="0.6" width="2.1" height="6.3" rx="1" fill="#e3e9f3" stroke="#7189b0" stroke-width="0.95"/><rect x="3.65" y="0.6" width="2.1" height="6.3" rx="1" fill="#e3e9f3" stroke="#7189b0" stroke-width="0.95"/><rect x="6.699999999999999" y="0.6" width="2.1" height="6.3" rx="1" fill="#e3e9f3" stroke="#7189b0" stroke-width="0.95"/><rect x="9.749999999999998" y="0.6" width="2.1" height="6.3" rx="1" fill="#e3e9f3" stroke="#7189b0" stroke-width="0.95"/><rect x="12.799999999999999" y="0.6" width="2.1" height="6.3" rx="1" fill="#e3e9f3" stroke="#7189b0" stroke-width="0.95"/></svg>
<span class="t" style="left:37.30px;top:226.00px;line-height:15.5px;font-size:11.5px;color:#3c3c3c;">Производительность труда, %|Годовая</span>
<div class="b" style="left:11px;top:253px;width:6px;height:1px;background:#dcdcdc;"></div>
<svg class="b" style="left:18.5px;top:249px" width="16" height="8" viewBox="0 0 16 8"><rect x="0.6" y="0.6" width="2.1" height="6.3" rx="1" fill="#e3e9f3" stroke="#7189b0" stroke-width="0.95"/><rect x="3.65" y="0.6" width="2.1" height="6.3" rx="1" fill="#e3e9f3" stroke="#7189b0" stroke-width="0.95"/><rect x="6.699999999999999" y="0.6" width="2.1" height="6.3" rx="1" fill="#e3e9f3" stroke="#7189b0" stroke-width="0.95"/><rect x="9.749999999999998" y="0.6" width="2.1" height="6.3" rx="1" fill="#e3e9f3" stroke="#7189b0" stroke-width="0.95"/><rect x="12.799999999999999" y="0.6" width="2.1" height="6.3" rx="1" fill="#e3e9f3" stroke="#7189b0" stroke-width="0.95"/></svg>
<span class="t" style="left:37.30px;top:246.00px;line-height:15.5px;font-size:11.5px;color:#3c3c3c;transform:scaleX(0.975);">Курс доллара (среднегодовой), рублей за доллар США|Годовая</span>
</div>
<div class="b" style="left:357px;top:812px;width:17px;height:17px;border:1px solid #e0e0e0;border-radius:2px;background:#fff;"></div>
<svg class="b" style="left:363.25px;top:817.5px" width="3.5" height="6" viewBox="0 0 3.5 6"><path d="M3.5 0V6L0 3.0Z" fill="#666"/></svg>
<div class="b" style="left:654px;top:812px;width:17px;height:17px;border:1px solid #e0e0e0;border-radius:2px;background:#fff;"></div>
<svg class="b" style="left:661.25px;top:817.5px" width="3.5" height="6" viewBox="0 0 3.5 6"><path d="M0 0V6L3.5 3.0Z" fill="#666"/></svg>
<div class="b" style="left:554px;top:817px;width:101px;height:7px;border-top:1px solid #e0e0e0;border-bottom:1px solid #e0e0e0;"></div>
<div class="b" style="left:375px;top:812px;width:181px;height:17px;border:1px solid #e0e0e0;border-radius:2px;background:#fff;"></div>
<div class="b" style="left:680px;top:240px;width:1px;height:597px;background:#e5e5e5;"></div>
<div class="b" style="left:690px;top:247px;width:636px;height:47px;background:#e9e9e9;"></div>
<div class="b" style="left:690px;top:247px;width:375px;height:46px;border:2px solid #b9b9b9;border-bottom-width:1px;background:#e9e9e9;"></div>
<div class="b" style="left:1062px;top:291px;width:5px;height:5px;background:#b4b4b4;"></div>
<svg class="b" style="left:872.5px;top:276px" width="10" height="8" viewBox="0 0 10 8"><path d="M0.5 1H9.5M1.5 3.5H8.5M3 6H7" stroke="#8e8e8e" stroke-width="1.5"/><path d="M4 7.5H6" stroke="#a8a8a8" stroke-width="1"/></svg>
<div class="b" style="left:690px;top:293px;width:636px;height:1px;background:#b0b0b0;"></div>
<div class="b" style="left:1090px;top:247px;width:1px;height:229px;background:#979797;"></div>
<div class="b" style="left:1148px;top:247px;width:1px;height:46px;background:#fff;"></div>
<span class="t" style="left:1100.52px;top:256.50px;line-height:15px;font-size:11px;color:#111;">2012A1</span>
<svg class="b" style="left:1115px;top:276px" width="10" height="8" viewBox="0 0 10 8"><path d="M0.5 1H9.5M1.5 3.5H8.5M3 6H7" stroke="#8e8e8e" stroke-width="1.5"/><path d="M4 7.5H6" stroke="#a8a8a8" stroke-width="1"/></svg>
<div class="b" style="left:1206px;top:247px;width:1px;height:46px;background:#fff;"></div>
<span class="t" style="left:1158.52px;top:256.50px;line-height:15px;font-size:11px;color:#111;">2013A1</span>
<svg class="b" style="left:1173px;top:276px" width="10" height="8" viewBox="0 0 10 8"><path d="M0.5 1H9.5M1.5 3.5H8.5M3 6H7" stroke="#8e8e8e" stroke-width="1.5"/><path d="M4 7.5H6" stroke="#a8a8a8" stroke-width="1"/></svg>
<div class="b" style="left:1264px;top:247px;width:1px;height:46px;background:#fff;"></div>
<span class="t" style="left:1216.52px;top:256.50px;line-height:15px;font-size:11px;color:#111;">2014A1</span>
<svg class="b" style="left:1231px;top:276px" width="10" height="8" viewBox="0 0 10 8"><path d="M0.5 1H9.5M1.5 3.5H8.5M3 6H7" stroke="#8e8e8e" stroke-width="1.5"/><path d="M4 7.5H6" stroke="#a8a8a8" stroke-width="1"/></svg>
<div class="b" style="left:1322px;top:247px;width:1px;height:46px;background:#fff;"></div>
<span class="t" style="left:1274.52px;top:256.50px;line-height:15px;font-size:11px;color:#111;">2015A1</span>
<svg class="b" style="left:1289px;top:276px" width="10" height="8" viewBox="0 0 10 8"><path d="M0.5 1H9.5M1.5 3.5H8.5M3 6H7" stroke="#8e8e8e" stroke-width="1.5"/><path d="M4 7.5H6" stroke="#a8a8a8" stroke-width="1"/></svg>
<div class="b" style="left:1323px;top:247px;width:3px;height:46px;background:#e9e9e9;"></div>
<div class="b" style="left:690px;top:294px;width:374px;height:25px;background:#e9e9e9;"></div>
<div class="b" style="left:1065px;top:294px;width:25px;height:25px;background:#e9e9e9;"></div>
<span class="t" style="left:700.00px;top:298.50px;line-height:15px;font-size:11px;color:#111;letter-spacing:0.033px;">Курс доллара (среднегодовой), рублей за доллар США|A</span>
<div class="b" style="left:1073px;top:302px;width:9px;height:9px;background:#b0cc3a;"></div>
<span class="t" style="left:1110.94px;top:298.50px;line-height:15px;font-size:11px;color:#111;">31,08</span>
<span class="t" style="left:1168.94px;top:298.50px;line-height:15px;font-size:11px;color:#111;">31,80</span>
<span class="t" style="left:1226.94px;top:298.50px;line-height:15px;font-size:11px;color:#111;">38,40</span>
<span class="t" style="left:1284.94px;top:298.50px;line-height:15px;font-size:11px;color:#111;">60,97</span>
<div class="b" style="left:690px;top:320px;width:374px;height:25px;background:#e9e9e9;"></div>
<div class="b" style="left:1065px;top:320px;width:25px;height:25px;background:#e9e9e9;"></div>
<span class="t" style="left:700.00px;top:324.50px;line-height:15px;font-size:11px;color:#111;letter-spacing:0.022px;">Цены на нефть Urals (мировые), долл. / барр.|A</span>
<div class="b" style="left:1073px;top:328px;width:9px;height:9px;background:#8e35a8;"></div>
<span class="t" style="left:1105.62px;top:324.50px;line-height:15px;font-size:11px;color:#111;">110,52</span>
<span class="t" style="left:1162.81px;top:324.50px;line-height:15px;font-size:11px;color:#111;">108,00</span>
<span class="t" style="left:1226.94px;top:324.50px;line-height:15px;font-size:11px;color:#111;">97,60</span>
<span class="t" style="left:1284.94px;top:324.50px;line-height:15px;font-size:11px;color:#111;">51,20</span>
<div class="b" style="left:690px;top:346px;width:374px;height:25px;background:#e9e9e9;"></div>
<div class="b" style="left:1065px;top:346px;width:25px;height:25px;background:#e9e9e9;"></div>
<span class="t" style="left:700.00px;top:350.50px;line-height:15px;font-size:11px;color:#111;letter-spacing:0.044px;">Индекс  потребительских цен в среднем за год, % г/г |A</span>
<div class="b" style="left:1073px;top:354px;width:9px;height:9px;background:#f4452c;"></div>
<span class="t" style="left:1117.06px;top:350.50px;line-height:15px;font-size:11px;color:#111;">5,10</span>
<span class="t" style="left:1175.06px;top:350.50px;line-height:15px;font-size:11px;color:#111;">6,80</span>
<span class="t" style="left:1233.06px;top:350.50px;line-height:15px;font-size:11px;color:#111;">7,84</span>
<span class="t" style="left:1284.94px;top:350.50px;line-height:15px;font-size:11px;color:#111;">15,50</span>
<div class="b" style="left:690px;top:372px;width:374px;height:25px;background:#e9e9e9;"></div>
<div class="b" style="left:1065px;top:372px;width:25px;height:25px;background:#e9e9e9;"></div>
<span class="t" style="left:700.00px;top:376.50px;line-height:15px;font-size:11px;color:#111;letter-spacing:0.056px;">Валовой внутренний продукт, Темп роста % г/г|A</span>
<div class="b" style="left:1073px;top:380px;width:9px;height:9px;background:#86b9b6;"></div>
<span class="t" style="left:1117.06px;top:376.50px;line-height:15px;font-size:11px;color:#111;">3,40</span>
<span class="t" style="left:1175.06px;top:376.50px;line-height:15px;font-size:11px;color:#111;">1,30</span>
<span class="t" style="left:1233.06px;top:376.50px;line-height:15px;font-size:11px;color:#111;">0,60</span>
<span class="t" style="left:1287.41px;top:376.50px;line-height:15px;font-size:11px;color:#111;">-3,70</span>
<div class="b" style="left:690px;top:398px;width:374px;height:25px;background:#e9e9e9;"></div>
<div class="b" style="left:1065px;top:398px;width:25px;height:25px;background:#e9e9e9;"></div>
<span class="t" style="left:700.00px;top:402.50px;line-height:15px;font-size:11px;color:#111;letter-spacing:0.046px;">Фонд заработной платы работников организаций, Темп роста % г/г|A</span>
<div class="b" style="left:1073px;top:406px;width:9px;height:9px;background:#fdd512;"></div>
<span class="t" style="left:1105.62px;top:402.50px;line-height:15px;font-size:11px;color:#111;">114,01</span>
<span class="t" style="left:1164.44px;top:402.50px;line-height:15px;font-size:11px;color:#111;">111,68</span>
<span class="t" style="left:1220.81px;top:402.50px;line-height:15px;font-size:11px;color:#111;">108,29</span>
<span class="t" style="left:1278.81px;top:402.50px;line-height:15px;font-size:11px;color:#111;">103,80</span>
<div class="b" style="left:690px;top:424px;width:374px;height:25px;background:#e9e9e9;"></div>
<div class="b" style="left:1065px;top:424px;width:25px;height:25px;background:#e9e9e9;"></div>
<span class="t" style="left:700.00px;top:428.50px;line-height:15px;font-size:11px;color:#111;letter-spacing:0.079px;">Производительность труда, %|A</span>
<div class="b" style="left:1073px;top:432px;width:9px;height:9px;background:#f59595;"></div>
<span class="t" style="left:1117.06px;top:428.50px;line-height:15px;font-size:11px;color:#111;">3,10</span>
<span class="t" style="left:1175.06px;top:428.50px;line-height:15px;font-size:11px;color:#111;">1,40</span>
<span class="t" style="left:1233.06px;top:428.50px;line-height:15px;font-size:11px;color:#111;">0,80</span>
<span class="t" style="left:1287.41px;top:428.50px;line-height:15px;font-size:11px;color:#111;">-2,20</span>
<div class="b" style="left:690px;top:450px;width:374px;height:26px;background:#e9e9e9;"></div>
<div class="b" style="left:1065px;top:450px;width:25px;height:26px;background:#e9e9e9;"></div>
<span class="t" style="left:700.00px;top:454.50px;line-height:15px;font-size:11px;color:#111;letter-spacing:0.081px;">Торговый баланс к ВВП, %|A</span>
<div class="b" style="left:1073px;top:458px;width:9px;height:9px;background:#67b87a;"></div>
<span class="t" style="left:1117.06px;top:454.50px;line-height:15px;font-size:11px;color:#111;">9,60</span>
<span class="t" style="left:1175.06px;top:454.50px;line-height:15px;font-size:11px;color:#111;">8,70</span>
<span class="t" style="left:1226.94px;top:454.50px;line-height:15px;font-size:11px;color:#111;">10,20</span>
<span class="t" style="left:1285.75px;top:454.50px;line-height:15px;font-size:11px;color:#111;">11,21</span>
<div class="b" style="left:690px;top:512px;width:17px;height:17px;border:1px solid #e0e0e0;border-radius:2px;background:#fff;"></div>
<svg class="b" style="left:696.25px;top:517.5px" width="3.5" height="6" viewBox="0 0 3.5 6"><path d="M3.5 0V6L0 3.0Z" fill="#666"/></svg>
<div class="b" style="left:1309px;top:512px;width:17px;height:17px;border:1px solid #e0e0e0;border-radius:2px;background:#fff;"></div>
<svg class="b" style="left:1316.25px;top:517.5px" width="3.5" height="6" viewBox="0 0 3.5 6"><path d="M0 0V6L3.5 3.0Z" fill="#666"/></svg>
<div class="b" style="left:972px;top:517px;width:338px;height:7px;border-top:1px solid #e0e0e0;border-bottom:1px solid #e0e0e0;"></div>
<div class="b" style="left:708px;top:512px;width:266px;height:17px;border:1px solid #e0e0e0;border-radius:2px;background:#fff;"></div>
<div class="b" style="left:683px;top:538px;width:643px;height:1px;background:#e5e5e5;"></div>
<svg class="b" style="left:0;top:540px" width="1357" height="297" viewBox="0 540 1357 297"><path d="M739.5 563.5H1317" stroke="#e8e8e8" stroke-width="1"/><path d="M739.5 587.5H1317" stroke="#e8e8e8" stroke-width="1"/><path d="M739.5 611.5H1317" stroke="#e8e8e8" stroke-width="1"/><path d="M739.5 635.5H1317" stroke="#e8e8e8" stroke-width="1"/><path d="M739.5 658.5H1317" stroke="#e8e8e8" stroke-width="1"/><path d="M739.5 682.5H1317" stroke="#e8e8e8" stroke-width="1"/><path d="M739.5 706.5H1317" stroke="#e8e8e8" stroke-width="1"/><path d="M771.5 563V730" stroke="#e8e8e8" stroke-width="1"/><path d="M835.5 563V730" stroke="#e8e8e8" stroke-width="1"/><path d="M899.5 563V730" stroke="#e8e8e8" stroke-width="1"/><path d="M963.5 563V730" stroke="#e8e8e8" stroke-width="1"/><path d="M1027.5 563V730" stroke="#e8e8e8" stroke-width="1"/><path d="M1092.5 563V730" stroke="#e8e8e8" stroke-width="1"/><path d="M1156.5 563V730" stroke="#e8e8e8" stroke-width="1"/><path d="M1220.5 563V730" stroke="#e8e8e8" stroke-width="1"/><path d="M1284.5 563V730" stroke="#e8e8e8" stroke-width="1"/><path d="M739.5 731H1317" stroke="#e2e2e2" stroke-width="2"/><polyline points="771.5,570.6 835.7,573.4 899.9,577.5 964.1,582.8 1028.3,579.8 1092.5,578.8 1156.7,578.8 1220.9,581.9 1285.1,582.0" fill="none" stroke="#fdd512" stroke-width="2" stroke-linejoin="round"/><circle cx="771.5" cy="570.6" r="2.8" fill="#fff" stroke="#fdd512" stroke-width="1.1"/><circle cx="835.7" cy="573.4" r="2.8" fill="#fff" stroke="#fdd512" stroke-width="1.1"/><circle cx="899.9" cy="577.5" r="2.8" fill="#fff" stroke="#fdd512" stroke-width="1.1"/><circle cx="964.1" cy="582.8" r="2.8" fill="#fff" stroke="#fdd512" stroke-width="1.1"/><circle cx="1028.3" cy="579.8" r="2.8" fill="#fff" stroke="#fdd512" stroke-width="1.1"/><circle cx="1092.5" cy="578.8" r="2.8" fill="#fff" stroke="#fdd512" stroke-width="1.1"/><circle cx="1156.7" cy="578.8" r="2.8" fill="#fff" stroke="#fdd512" stroke-width="1.1"/><circle cx="1220.9" cy="581.9" r="2.8" fill="#fff" stroke="#fdd512" stroke-width="1.1"/><circle cx="1285.1" cy="582.0" r="2.8" fill="#fff" stroke="#fdd512" stroke-width="1.1"/><polyline points="771.5,574.8 835.7,577.8 899.9,590.2 964.1,645.7 1028.3,656.8 1092.5,647.9 1156.7,654.8 1220.9,656.9 1285.1,655.9" fill="none" stroke="#8e35a8" stroke-width="2" stroke-linejoin="round"/><circle cx="771.5" cy="574.8" r="2.8" fill="#fff" stroke="#8e35a8" stroke-width="1.1"/><circle cx="835.7" cy="577.8" r="2.8" fill="#fff" stroke="#8e35a8" stroke-width="1.1"/><circle cx="899.9" cy="590.2" r="2.8" fill="#fff" stroke="#8e35a8" stroke-width="1.1"/><circle cx="964.1" cy="645.7" r="2.8" fill="#fff" stroke="#8e35a8" stroke-width="1.1"/><circle cx="1028.3" cy="656.8" r="2.8" fill="#fff" stroke="#8e35a8" stroke-width="1.1"/><circle cx="1092.5" cy="647.9" r="2.8" fill="#fff" stroke="#8e35a8" stroke-width="1.1"/><circle cx="1156.7" cy="654.8" r="2.8" fill="#fff" stroke="#8e35a8" stroke-width="1.1"/><circle cx="1220.9" cy="656.9" r="2.8" fill="#fff" stroke="#8e35a8" stroke-width="1.1"/><circle cx="1285.1" cy="655.9" r="2.8" fill="#fff" stroke="#8e35a8" stroke-width="1.1"/><polyline points="771.5,669.7 835.7,668.8 899.9,660.9 964.1,634.0 1028.3,626.8 1092.5,635.7 1156.7,629.8 1220.9,626.8 1285.1,625.6" fill="none" stroke="#b0cc3a" stroke-width="2" stroke-linejoin="round"/><circle cx="771.5" cy="669.7" r="2.8" fill="#fff" stroke="#b0cc3a" stroke-width="1.1"/><circle cx="835.7" cy="668.8" r="2.8" fill="#fff" stroke="#b0cc3a" stroke-width="1.1"/><circle cx="899.9" cy="660.9" r="2.8" fill="#fff" stroke="#b0cc3a" stroke-width="1.1"/><circle cx="964.1" cy="634.0" r="2.8" fill="#fff" stroke="#b0cc3a" stroke-width="1.1"/><circle cx="1028.3" cy="626.8" r="2.8" fill="#fff" stroke="#b0cc3a" stroke-width="1.1"/><circle cx="1092.5" cy="635.7" r="2.8" fill="#fff" stroke="#b0cc3a" stroke-width="1.1"/><circle cx="1156.7" cy="629.8" r="2.8" fill="#fff" stroke="#b0cc3a" stroke-width="1.1"/><circle cx="1220.9" cy="626.8" r="2.8" fill="#fff" stroke="#b0cc3a" stroke-width="1.1"/><circle cx="1285.1" cy="625.6" r="2.8" fill="#fff" stroke="#b0cc3a" stroke-width="1.1"/><polyline points="771.5,695.3 835.7,696.4 899.9,694.6 964.1,693.4 1028.3,698.9 1092.5,698.8 1156.7,699.8 1220.9,700.8 1285.1,700.0" fill="none" stroke="#67b87a" stroke-width="2" stroke-linejoin="round"/><circle cx="771.5" cy="695.3" r="2.8" fill="#fff" stroke="#67b87a" stroke-width="1.1"/><circle cx="835.7" cy="696.4" r="2.8" fill="#fff" stroke="#67b87a" stroke-width="1.1"/><circle cx="899.9" cy="694.6" r="2.8" fill="#fff" stroke="#67b87a" stroke-width="1.1"/><circle cx="964.1" cy="693.4" r="2.8" fill="#fff" stroke="#67b87a" stroke-width="1.1"/><circle cx="1028.3" cy="698.9" r="2.8" fill="#fff" stroke="#67b87a" stroke-width="1.1"/><circle cx="1092.5" cy="698.8" r="2.8" fill="#fff" stroke="#67b87a" stroke-width="1.1"/><circle cx="1156.7" cy="699.8" r="2.8" fill="#fff" stroke="#67b87a" stroke-width="1.1"/><circle cx="1220.9" cy="700.8" r="2.8" fill="#fff" stroke="#67b87a" stroke-width="1.1"/><circle cx="1285.1" cy="700.0" r="2.8" fill="#fff" stroke="#67b87a" stroke-width="1.1"/><polyline points="771.5,703.1 835.7,705.1 899.9,705.8 964.1,709.4 1028.3,707.0 1092.5,705.0 1156.7,704.8 1220.9,704.4 1285.1,703.8" fill="none" stroke="#f59595" stroke-width="2" stroke-linejoin="round"/><circle cx="771.5" cy="703.1" r="2.8" fill="#fff" stroke="#f59595" stroke-width="1.1"/><circle cx="835.7" cy="705.1" r="2.8" fill="#fff" stroke="#f59595" stroke-width="1.1"/><circle cx="899.9" cy="705.8" r="2.8" fill="#fff" stroke="#f59595" stroke-width="1.1"/><circle cx="964.1" cy="709.4" r="2.8" fill="#fff" stroke="#f59595" stroke-width="1.1"/><circle cx="1028.3" cy="707.0" r="2.8" fill="#fff" stroke="#f59595" stroke-width="1.1"/><circle cx="1092.5" cy="705.0" r="2.8" fill="#fff" stroke="#f59595" stroke-width="1.1"/><circle cx="1156.7" cy="704.8" r="2.8" fill="#fff" stroke="#f59595" stroke-width="1.1"/><circle cx="1220.9" cy="704.4" r="2.8" fill="#fff" stroke="#f59595" stroke-width="1.1"/><circle cx="1285.1" cy="703.8" r="2.8" fill="#fff" stroke="#f59595" stroke-width="1.1"/><polyline points="771.5,702.7 835.7,705.2 899.9,706.1 964.1,711.2 1028.3,707.0 1092.5,704.7 1156.7,704.4 1220.9,704.2 1285.1,703.2" fill="none" stroke="#86b9b6" stroke-width="2" stroke-linejoin="round"/><circle cx="771.5" cy="702.7" r="2.8" fill="#fff" stroke="#86b9b6" stroke-width="1.1"/><circle cx="835.7" cy="705.2" r="2.8" fill="#fff" stroke="#86b9b6" stroke-width="1.1"/><circle cx="899.9" cy="706.1" r="2.8" fill="#fff" stroke="#86b9b6" stroke-width="1.1"/><circle cx="964.1" cy="711.2" r="2.8" fill="#fff" stroke="#86b9b6" stroke-width="1.1"/><circle cx="1028.3" cy="707.0" r="2.8" fill="#fff" stroke="#86b9b6" stroke-width="1.1"/><circle cx="1092.5" cy="704.7" r="2.8" fill="#fff" stroke="#86b9b6" stroke-width="1.1"/><circle cx="1156.7" cy="704.4" r="2.8" fill="#fff" stroke="#86b9b6" stroke-width="1.1"/><circle cx="1220.9" cy="704.2" r="2.8" fill="#fff" stroke="#86b9b6" stroke-width="1.1"/><circle cx="1285.1" cy="703.2" r="2.8" fill="#fff" stroke="#86b9b6" stroke-width="1.1"/><polyline points="771.5,700.7 835.7,698.7 899.9,697.4 964.1,688.3 1028.3,700.8 1092.5,702.7 1156.7,702.7 1220.9,702.0 1285.1,702.0" fill="none" stroke="#f4452c" stroke-width="2" stroke-linejoin="round"/><circle cx="771.5" cy="700.7" r="2.8" fill="#fff" stroke="#f4452c" stroke-width="1.1"/><circle cx="835.7" cy="698.7" r="2.8" fill="#fff" stroke="#f4452c" stroke-width="1.1"/><circle cx="899.9" cy="697.4" r="2.8" fill="#fff" stroke="#f4452c" stroke-width="1.1"/><circle cx="964.1" cy="688.3" r="2.8" fill="#fff" stroke="#f4452c" stroke-width="1.1"/><circle cx="1028.3" cy="700.8" r="2.8" fill="#fff" stroke="#f4452c" stroke-width="1.1"/><circle cx="1092.5" cy="702.7" r="2.8" fill="#fff" stroke="#f4452c" stroke-width="1.1"/><circle cx="1156.7" cy="702.7" r="2.8" fill="#fff" stroke="#f4452c" stroke-width="1.1"/><circle cx="1220.9" cy="702.0" r="2.8" fill="#fff" stroke="#f4452c" stroke-width="1.1"/><circle cx="1285.1" cy="702.0" r="2.8" fill="#fff" stroke="#f4452c" stroke-width="1.1"/></svg>
<span class="t" style="left:699.35px;top:556.00px;line-height:15.5px;font-size:11.5px;color:#8c8c8c;transform:scaleX(0.9250);">120,00</span>
<span class="t" style="left:699.35px;top:580.00px;line-height:15.5px;font-size:11.5px;color:#8c8c8c;transform:scaleX(0.9250);">100,00</span>
<span class="t" style="left:702.30px;top:604.00px;line-height:15.5px;font-size:11.5px;color:#8c8c8c;transform:scaleX(0.9250);">80,00</span>
<span class="t" style="left:702.30px;top:628.00px;line-height:15.5px;font-size:11.5px;color:#8c8c8c;transform:scaleX(0.9250);">60,00</span>
<span class="t" style="left:702.30px;top:651.00px;line-height:15.5px;font-size:11.5px;color:#8c8c8c;transform:scaleX(0.9250);">40,00</span>
<span class="t" style="left:702.30px;top:675.00px;line-height:15.5px;font-size:11.5px;color:#8c8c8c;transform:scaleX(0.9250);">20,00</span>
<span class="t" style="left:705.26px;top:699.00px;line-height:15.5px;font-size:11.5px;color:#8c8c8c;transform:scaleX(0.9250);">0,00</span>
<span class="t" style="left:700.53px;top:723.50px;line-height:15.5px;font-size:11.5px;color:#8c8c8c;transform:scaleX(0.9250);">-20,00</span>
<span class="t" style="left:753.00px;top:737.50px;line-height:15.5px;font-size:11.5px;color:#8c8c8c;transform:scaleX(0.9085);">2012A1</span>
<span class="t" style="left:817.20px;top:737.50px;line-height:15.5px;font-size:11.5px;color:#8c8c8c;transform:scaleX(0.9085);">2013A1</span>
<span class="t" style="left:881.40px;top:737.50px;line-height:15.5px;font-size:11.5px;color:#8c8c8c;transform:scaleX(0.9085);">2014A1</span>
<span class="t" style="left:945.60px;top:737.50px;line-height:15.5px;font-size:11.5px;color:#8c8c8c;transform:scaleX(0.9085);">2015A1</span>
<span class="t" style="left:1009.80px;top:737.50px;line-height:15.5px;font-size:11.5px;color:#8c8c8c;transform:scaleX(0.9085);">2016A1</span>
<span class="t" style="left:1074.00px;top:737.50px;line-height:15.5px;font-size:11.5px;color:#8c8c8c;transform:scaleX(0.9085);">2017A1</span>
<span class="t" style="left:1138.20px;top:737.50px;line-height:15.5px;font-size:11.5px;color:#8c8c8c;transform:scaleX(0.9085);">2018A1</span>
<span class="t" style="left:1202.40px;top:737.50px;line-height:15.5px;font-size:11.5px;color:#8c8c8c;transform:scaleX(0.9085);">2019A1</span>
<span class="t" style="left:1266.60px;top:737.50px;line-height:15.5px;font-size:11.5px;color:#8c8c8c;transform:scaleX(0.9085);">2020A1</span>
<svg class="b" style="left:706px;top:765px" width="13" height="9" viewBox="0 0 13 9"><path d="M0.2 4.5H12.4" stroke="#b0cc3a" stroke-width="1.3"/><circle cx="6.3" cy="4.5" r="2.8" fill="#fff" stroke="#b0cc3a" stroke-width="1.1"/></svg>
<span class="t" style="left:722.50px;top:761.50px;line-height:15.5px;font-size:11.5px;color:#8c8c8c;transform:scaleX(0.9147);">Курс доллара (среднегодовой), ру…</span>
<svg class="b" style="left:909px;top:765px" width="13" height="9" viewBox="0 0 13 9"><path d="M0.2 4.5H12.4" stroke="#8e35a8" stroke-width="1.3"/><circle cx="6.3" cy="4.5" r="2.8" fill="#fff" stroke="#8e35a8" stroke-width="1.1"/></svg>
<span class="t" style="left:925.50px;top:761.50px;line-height:15.5px;font-size:11.5px;color:#8c8c8c;transform:scaleX(0.9122);">Цены на нефть Urals (мировые), д…</span>
<svg class="b" style="left:1115px;top:765px" width="13" height="9" viewBox="0 0 13 9"><path d="M0.2 4.5H12.4" stroke="#f4452c" stroke-width="1.3"/><circle cx="6.3" cy="4.5" r="2.8" fill="#fff" stroke="#f4452c" stroke-width="1.1"/></svg>
<span class="t" style="left:1131.50px;top:761.50px;line-height:15.5px;font-size:11.5px;color:#8c8c8c;transform:scaleX(0.9245);">Индекс  потребительских цен в ср…</span>
<svg class="b" style="left:706px;top:785.5px" width="13" height="9" viewBox="0 0 13 9"><path d="M0.2 4.5H12.4" stroke="#86b9b6" stroke-width="1.3"/><circle cx="6.3" cy="4.5" r="2.8" fill="#fff" stroke="#86b9b6" stroke-width="1.1"/></svg>
<span class="t" style="left:722.50px;top:782.00px;line-height:15.5px;font-size:11.5px;color:#8c8c8c;transform:scaleX(0.9164);">Валовой внутренний продукт, Тем…</span>
<svg class="b" style="left:909px;top:785.5px" width="13" height="9" viewBox="0 0 13 9"><path d="M0.2 4.5H12.4" stroke="#fdd512" stroke-width="1.3"/><circle cx="6.3" cy="4.5" r="2.8" fill="#fff" stroke="#fdd512" stroke-width="1.1"/></svg>
<span class="t" style="left:925.50px;top:782.00px;line-height:15.5px;font-size:11.5px;color:#8c8c8c;transform:scaleX(0.9217);">Фонд заработной платы работнико…</span>
<svg class="b" style="left:1115px;top:785.5px" width="13" height="9" viewBox="0 0 13 9"><path d="M0.2 4.5H12.4" stroke="#f59595" stroke-width="1.3"/><circle cx="6.3" cy="4.5" r="2.8" fill="#fff" stroke="#f59595" stroke-width="1.1"/></svg>
<span class="t" style="left:1131.50px;top:782.00px;line-height:15.5px;font-size:11.5px;color:#8c8c8c;transform:scaleX(0.9360);">Производительность труда, %|A</span>
<svg class="b" style="left:706px;top:806.5px" width="13" height="9" viewBox="0 0 13 9"><path d="M0.2 4.5H12.4" stroke="#67b87a" stroke-width="1.3"/><circle cx="6.3" cy="4.5" r="2.8" fill="#fff" stroke="#67b87a" stroke-width="1.1"/></svg>
<span class="t" style="left:722.50px;top:803.00px;line-height:15.5px;font-size:11.5px;color:#8c8c8c;transform:scaleX(0.9322);">Торговый баланс к ВВП, %|A</span>
<div class="b" style="left:0px;top:0px;width:1357px;height:859px;border:1px solid #565352;pointer-events:none;"></div>
</body></html>
